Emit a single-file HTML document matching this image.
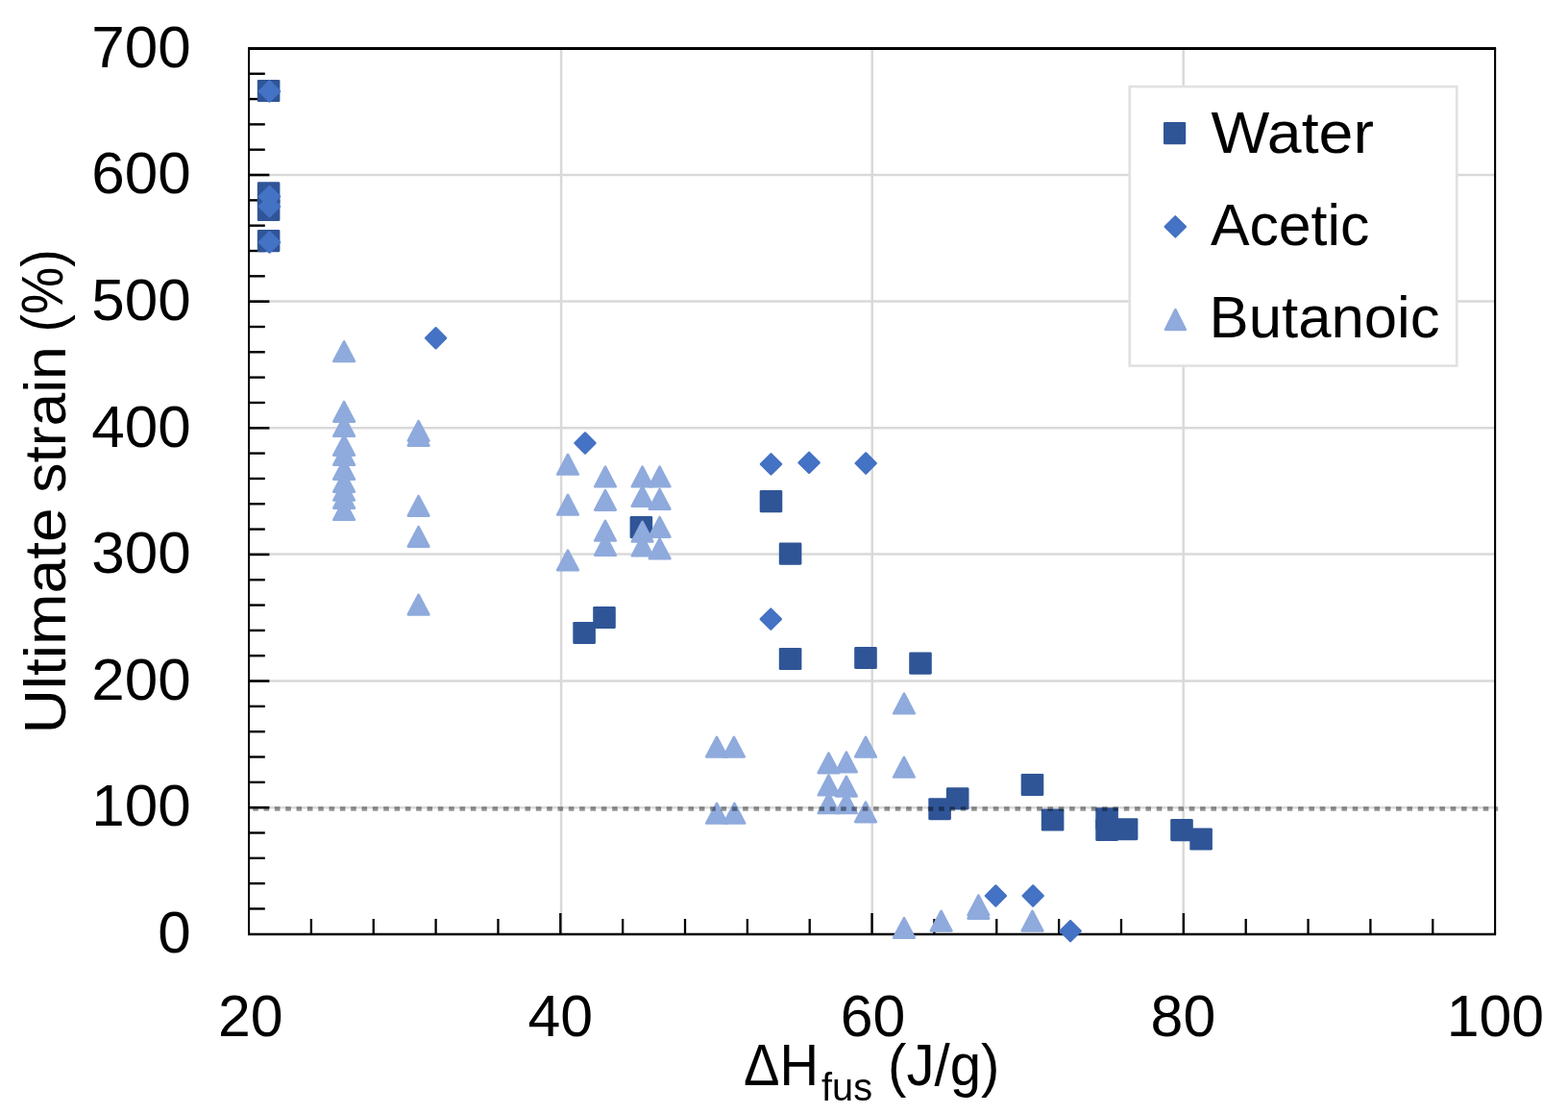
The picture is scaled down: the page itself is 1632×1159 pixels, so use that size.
<!DOCTYPE html>
<html lang="en">
<head>
<meta charset="utf-8">
<title>Ultimate strain vs enthalpy of fusion</title>
<style>
html,body{margin:0;padding:0;background:#fff;}
body{width:1632px;height:1159px;overflow:hidden;}
svg{display:block;}
text{font-family:"Liberation Sans",sans-serif;fill:#000;}
</style>
</head>
<body>
<svg width="1632" height="1159" viewBox="0 0 1632 1159">
<rect x="0" y="0" width="1632" height="1159" fill="#ffffff"/>
<g stroke="#D9D9D9" stroke-width="2.5" fill="none">
<line x1="259.05" y1="181.90" x2="1556.10" y2="181.90"/>
<line x1="259.05" y1="313.40" x2="1556.10" y2="313.40"/>
<line x1="259.05" y1="445.20" x2="1556.10" y2="445.20"/>
<line x1="259.05" y1="576.50" x2="1556.10" y2="576.50"/>
<line x1="259.05" y1="708.40" x2="1556.10" y2="708.40"/>
<line x1="259.05" y1="840.20" x2="1556.10" y2="840.20"/>
<line x1="584.10" y1="50.50" x2="584.10" y2="971.90"/>
<line x1="907.70" y1="50.50" x2="907.70" y2="971.90"/>
<line x1="1231.70" y1="50.50" x2="1231.70" y2="971.90"/>
</g>
<g stroke="#000" fill="none">
<line x1="259.05" y1="76.73" x2="275.80" y2="76.73" stroke-width="2.4"/>
<line x1="259.05" y1="103.05" x2="275.80" y2="103.05" stroke-width="2.4"/>
<line x1="259.05" y1="129.38" x2="275.80" y2="129.38" stroke-width="2.4"/>
<line x1="259.05" y1="155.70" x2="275.80" y2="155.70" stroke-width="2.4"/>
<line x1="259.05" y1="182.03" x2="280.40" y2="182.03" stroke-width="2.6"/>
<line x1="259.05" y1="208.35" x2="275.80" y2="208.35" stroke-width="2.4"/>
<line x1="259.05" y1="234.68" x2="275.80" y2="234.68" stroke-width="2.4"/>
<line x1="259.05" y1="261.01" x2="275.80" y2="261.01" stroke-width="2.4"/>
<line x1="259.05" y1="287.33" x2="275.80" y2="287.33" stroke-width="2.4"/>
<line x1="259.05" y1="313.66" x2="280.40" y2="313.66" stroke-width="2.6"/>
<line x1="259.05" y1="339.98" x2="275.80" y2="339.98" stroke-width="2.4"/>
<line x1="259.05" y1="366.31" x2="275.80" y2="366.31" stroke-width="2.4"/>
<line x1="259.05" y1="392.63" x2="275.80" y2="392.63" stroke-width="2.4"/>
<line x1="259.05" y1="418.96" x2="275.80" y2="418.96" stroke-width="2.4"/>
<line x1="259.05" y1="445.29" x2="280.40" y2="445.29" stroke-width="2.6"/>
<line x1="259.05" y1="471.61" x2="275.80" y2="471.61" stroke-width="2.4"/>
<line x1="259.05" y1="497.94" x2="275.80" y2="497.94" stroke-width="2.4"/>
<line x1="259.05" y1="524.26" x2="275.80" y2="524.26" stroke-width="2.4"/>
<line x1="259.05" y1="550.59" x2="275.80" y2="550.59" stroke-width="2.4"/>
<line x1="259.05" y1="576.91" x2="280.40" y2="576.91" stroke-width="2.6"/>
<line x1="259.05" y1="603.24" x2="275.80" y2="603.24" stroke-width="2.4"/>
<line x1="259.05" y1="629.57" x2="275.80" y2="629.57" stroke-width="2.4"/>
<line x1="259.05" y1="655.89" x2="275.80" y2="655.89" stroke-width="2.4"/>
<line x1="259.05" y1="682.22" x2="275.80" y2="682.22" stroke-width="2.4"/>
<line x1="259.05" y1="708.54" x2="280.40" y2="708.54" stroke-width="2.6"/>
<line x1="259.05" y1="734.87" x2="275.80" y2="734.87" stroke-width="2.4"/>
<line x1="259.05" y1="761.19" x2="275.80" y2="761.19" stroke-width="2.4"/>
<line x1="259.05" y1="787.52" x2="275.80" y2="787.52" stroke-width="2.4"/>
<line x1="259.05" y1="813.85" x2="275.80" y2="813.85" stroke-width="2.4"/>
<line x1="259.05" y1="840.17" x2="280.40" y2="840.17" stroke-width="2.6"/>
<line x1="259.05" y1="866.50" x2="275.80" y2="866.50" stroke-width="2.4"/>
<line x1="259.05" y1="892.82" x2="275.80" y2="892.82" stroke-width="2.4"/>
<line x1="259.05" y1="919.15" x2="275.80" y2="919.15" stroke-width="2.4"/>
<line x1="259.05" y1="945.47" x2="275.80" y2="945.47" stroke-width="2.4"/>
<line x1="323.90" y1="956.00" x2="323.90" y2="971.90" stroke-width="2.3"/>
<line x1="388.75" y1="956.00" x2="388.75" y2="971.90" stroke-width="2.3"/>
<line x1="453.61" y1="956.00" x2="453.61" y2="971.90" stroke-width="2.3"/>
<line x1="518.46" y1="956.00" x2="518.46" y2="971.90" stroke-width="2.3"/>
<line x1="583.31" y1="950.00" x2="583.31" y2="971.90" stroke-width="2.4"/>
<line x1="648.16" y1="956.00" x2="648.16" y2="971.90" stroke-width="2.3"/>
<line x1="713.02" y1="956.00" x2="713.02" y2="971.90" stroke-width="2.3"/>
<line x1="777.87" y1="956.00" x2="777.87" y2="971.90" stroke-width="2.3"/>
<line x1="842.72" y1="956.00" x2="842.72" y2="971.90" stroke-width="2.3"/>
<line x1="907.57" y1="950.00" x2="907.57" y2="971.90" stroke-width="2.4"/>
<line x1="972.43" y1="956.00" x2="972.43" y2="971.90" stroke-width="2.3"/>
<line x1="1037.28" y1="956.00" x2="1037.28" y2="971.90" stroke-width="2.3"/>
<line x1="1102.13" y1="956.00" x2="1102.13" y2="971.90" stroke-width="2.3"/>
<line x1="1166.98" y1="956.00" x2="1166.98" y2="971.90" stroke-width="2.3"/>
<line x1="1231.84" y1="950.00" x2="1231.84" y2="971.90" stroke-width="2.4"/>
<line x1="1296.69" y1="956.00" x2="1296.69" y2="971.90" stroke-width="2.3"/>
<line x1="1361.54" y1="956.00" x2="1361.54" y2="971.90" stroke-width="2.3"/>
<line x1="1426.39" y1="956.00" x2="1426.39" y2="971.90" stroke-width="2.3"/>
<line x1="1491.25" y1="956.00" x2="1491.25" y2="971.90" stroke-width="2.3"/>
</g>
<g stroke="#000" fill="none" stroke-linecap="butt">
<line x1="258.05" y1="50.50" x2="1557.10" y2="50.50" stroke-width="3"/>
<line x1="259.05" y1="50.50" x2="259.05" y2="971.90" stroke-width="2.1"/>
<line x1="1556.10" y1="50.50" x2="1556.10" y2="971.90" stroke-width="2.1"/>
<line x1="258.05" y1="971.90" x2="1557.10" y2="971.90" stroke-width="2.5"/>
</g>
<rect x="1175.7" y="90.1" width="340.6" height="290.5" fill="#fff" stroke="#E1E1E1" stroke-width="2.6"/>
<g fill="#2F5597">
<rect x="267.80" y="82.95" width="23.60" height="23.10" rx="1.4"/>
<rect x="267.80" y="189.25" width="23.60" height="23.10" rx="1.4"/>
<rect x="267.80" y="206.95" width="23.60" height="23.10" rx="1.4"/>
<rect x="267.80" y="239.05" width="23.60" height="23.10" rx="1.4"/>
<rect x="596.30" y="646.95" width="23.60" height="23.10" rx="1.4"/>
<rect x="617.20" y="630.95" width="23.60" height="23.10" rx="1.4"/>
<rect x="655.60" y="537.05" width="23.60" height="23.10" rx="1.4"/>
<rect x="790.70" y="510.05" width="23.60" height="23.10" rx="1.4"/>
<rect x="810.80" y="564.55" width="23.60" height="23.10" rx="1.4"/>
<rect x="810.80" y="673.95" width="23.60" height="23.10" rx="1.4"/>
<rect x="889.20" y="672.95" width="23.60" height="23.10" rx="1.4"/>
<rect x="946.20" y="678.55" width="23.60" height="23.10" rx="1.4"/>
<rect x="966.30" y="830.15" width="23.60" height="23.10" rx="1.4"/>
<rect x="984.90" y="819.35" width="23.60" height="23.10" rx="1.4"/>
<rect x="1062.70" y="804.95" width="23.60" height="23.10" rx="1.4"/>
<rect x="1083.80" y="841.45" width="23.60" height="23.10" rx="1.4"/>
<rect x="1140.30" y="840.25" width="23.60" height="23.10" rx="1.4"/>
<rect x="1140.30" y="851.95" width="23.60" height="23.10" rx="1.4"/>
<rect x="1160.80" y="851.15" width="23.60" height="23.10" rx="1.4"/>
<rect x="1218.20" y="852.05" width="23.60" height="23.10" rx="1.4"/>
<rect x="1238.30" y="861.45" width="23.60" height="23.10" rx="1.4"/>
<rect x="1211.0" y="127.0" width="23.2" height="23.3" rx="1.2"/>
</g>
<g fill="#4472C4" stroke="#4472C4" stroke-width="2.20" stroke-linejoin="round">
<polygon points="280.50,84.35 291.15,95.00 280.50,105.65 269.85,95.00"/>
<polygon points="280.50,193.85 291.15,204.50 280.50,215.15 269.85,204.50"/>
<polygon points="280.50,204.15 291.15,214.80 280.50,225.45 269.85,214.80"/>
<polygon points="280.50,241.35 291.15,252.00 280.50,262.65 269.85,252.00"/>
<polygon points="453.60,341.05 464.25,351.70 453.60,362.35 442.95,351.70"/>
<polygon points="609.00,450.35 619.65,461.00 609.00,471.65 598.35,461.00"/>
<polygon points="802.50,472.25 813.15,482.90 802.50,493.55 791.85,482.90"/>
<polygon points="842.10,470.75 852.75,481.40 842.10,492.05 831.45,481.40"/>
<polygon points="901.20,471.35 911.85,482.00 901.20,492.65 890.55,482.00"/>
<polygon points="802.30,633.45 812.95,644.10 802.30,654.75 791.65,644.10"/>
<polygon points="1036.40,921.35 1047.05,932.00 1036.40,942.65 1025.75,932.00"/>
<polygon points="1075.20,921.35 1085.85,932.00 1075.20,942.65 1064.55,932.00"/>
<polygon points="1114.10,957.95 1124.75,968.60 1114.10,979.25 1103.45,968.60"/>
<polygon points="1223.30,225.25 1233.95,235.90 1223.30,246.55 1212.65,235.90"/>
</g>
<g fill="#8FAADC" stroke="#8FAADC" stroke-width="2.60" stroke-linejoin="round">
<polygon points="347.30,375.90 368.90,375.90 358.10,355.30"/>
<polygon points="347.30,438.60 368.90,438.60 358.10,418.00"/>
<polygon points="347.30,453.80 368.90,453.80 358.10,433.20"/>
<polygon points="347.30,473.60 368.90,473.60 358.10,453.00"/>
<polygon points="347.30,483.70 368.90,483.70 358.10,463.10"/>
<polygon points="347.30,498.70 368.90,498.70 358.10,478.10"/>
<polygon points="347.30,511.60 368.90,511.60 358.10,491.00"/>
<polygon points="347.30,520.50 368.90,520.50 358.10,499.90"/>
<polygon points="347.30,528.70 368.90,528.70 358.10,508.10"/>
<polygon points="347.30,540.80 368.90,540.80 358.10,520.20"/>
<polygon points="424.80,458.70 446.40,458.70 435.60,438.10"/>
<polygon points="424.80,463.70 446.40,463.70 435.60,443.10"/>
<polygon points="424.80,536.60 446.40,536.60 435.60,516.00"/>
<polygon points="424.80,568.60 446.40,568.60 435.60,548.00"/>
<polygon points="424.80,639.45 446.40,639.45 435.60,618.85"/>
<polygon points="580.20,493.50 601.80,493.50 591.00,472.90"/>
<polygon points="580.20,535.50 601.80,535.50 591.00,514.90"/>
<polygon points="580.20,593.20 601.80,593.20 591.00,572.60"/>
<polygon points="619.20,506.30 640.80,506.30 630.00,485.70"/>
<polygon points="619.20,530.60 640.80,530.60 630.00,510.00"/>
<polygon points="619.20,562.50 640.80,562.50 630.00,541.90"/>
<polygon points="619.20,577.70 640.80,577.70 630.00,557.10"/>
<polygon points="657.80,506.30 679.40,506.30 668.60,485.70"/>
<polygon points="657.80,526.70 679.40,526.70 668.60,506.10"/>
<polygon points="657.80,563.50 679.40,563.50 668.60,542.90"/>
<polygon points="657.80,578.30 679.40,578.30 668.60,557.70"/>
<polygon points="675.80,506.30 697.40,506.30 686.60,485.70"/>
<polygon points="675.80,529.60 697.40,529.60 686.60,509.00"/>
<polygon points="675.80,558.60 697.40,558.60 686.60,538.00"/>
<polygon points="675.80,581.20 697.40,581.20 686.60,560.60"/>
<polygon points="735.20,787.40 756.80,787.40 746.00,766.80"/>
<polygon points="753.10,787.40 774.70,787.40 763.90,766.80"/>
<polygon points="735.20,856.50 756.80,856.50 746.00,835.90"/>
<polygon points="753.60,856.50 775.20,856.50 764.40,835.90"/>
<polygon points="851.70,804.10 873.30,804.10 862.50,783.50"/>
<polygon points="870.10,803.30 891.70,803.30 880.90,782.70"/>
<polygon points="851.70,827.30 873.30,827.30 862.50,806.70"/>
<polygon points="870.10,828.40 891.70,828.40 880.90,807.80"/>
<polygon points="851.70,846.00 873.30,846.00 862.50,825.40"/>
<polygon points="870.10,846.00 891.70,846.00 880.90,825.40"/>
<polygon points="890.20,787.40 911.80,787.40 901.00,766.80"/>
<polygon points="890.20,855.20 911.80,855.20 901.00,834.60"/>
<polygon points="930.20,742.30 951.80,742.30 941.00,721.70"/>
<polygon points="930.10,808.50 951.70,808.50 940.90,787.90"/>
<polygon points="930.20,975.60 951.80,975.60 941.00,955.00"/>
<polygon points="968.80,968.40 990.40,968.40 979.60,947.80"/>
<polygon points="1007.60,952.10 1029.20,952.10 1018.40,931.50"/>
<polygon points="1007.60,955.60 1029.20,955.60 1018.40,935.00"/>
<polygon points="1063.70,968.40 1085.30,968.40 1074.50,947.80"/>
<polygon points="1213.00,342.95 1233.80,342.95 1223.40,322.15"/>
</g>
<line x1="263.2" y1="841.45" x2="1559.2" y2="841.45" stroke="#000" stroke-opacity="0.42" stroke-width="4.5" stroke-dasharray="5.6 5.732"/>
<g font-size="62" text-anchor="end">
<text x="198.7" y="69.80">700</text>
<text x="198.7" y="201.40">600</text>
<text x="198.7" y="333.00">500</text>
<text x="198.7" y="464.60">400</text>
<text x="198.7" y="596.20">300</text>
<text x="198.7" y="727.80">200</text>
<text x="198.7" y="859.40">100</text>
<text x="198.7" y="991.00">0</text>
</g>
<g font-size="62" text-anchor="middle">
<text x="260.70" y="1078" textLength="67.6" lengthAdjust="spacingAndGlyphs">20</text>
<text x="583.20" y="1078" textLength="67.6" lengthAdjust="spacingAndGlyphs">40</text>
<text x="908.60" y="1078" textLength="67.6" lengthAdjust="spacingAndGlyphs">60</text>
<text x="1231.40" y="1078" textLength="67.6" lengthAdjust="spacingAndGlyphs">80</text>
<text x="1556.50" y="1078" textLength="101.3" lengthAdjust="spacingAndGlyphs">100</text>
</g>
<g font-size="62">
<text x="1260.4" y="158.6" textLength="169.5" lengthAdjust="spacingAndGlyphs">Water</text>
<text x="1259.9" y="255.2" textLength="165.5" lengthAdjust="spacingAndGlyphs">Acetic</text>
<text x="1258.6" y="351.2" textLength="240" lengthAdjust="spacingAndGlyphs">Butanoic</text>
</g>
<text font-size="62" transform="translate(68.1 0) rotate(-90)"><tspan x="-763.6" y="0" textLength="235.3" lengthAdjust="spacingAndGlyphs">Ultimate</tspan> <tspan x="-512.8" y="0" textLength="152.6" lengthAdjust="spacingAndGlyphs">strain</tspan> <tspan x="-345.5" y="-3" textLength="86.2" lengthAdjust="spacingAndGlyphs">(%)</tspan></text>
<text font-size="62"><tspan x="774" y="1129" textLength="78" lengthAdjust="spacingAndGlyphs">ΔH</tspan><tspan font-size="40" x="855" y="1145" textLength="53" lengthAdjust="spacingAndGlyphs">fus</tspan> <tspan x="924" y="1129" textLength="116.5" lengthAdjust="spacingAndGlyphs">(J/g)</tspan></text>
</svg>
</body>
</html>
